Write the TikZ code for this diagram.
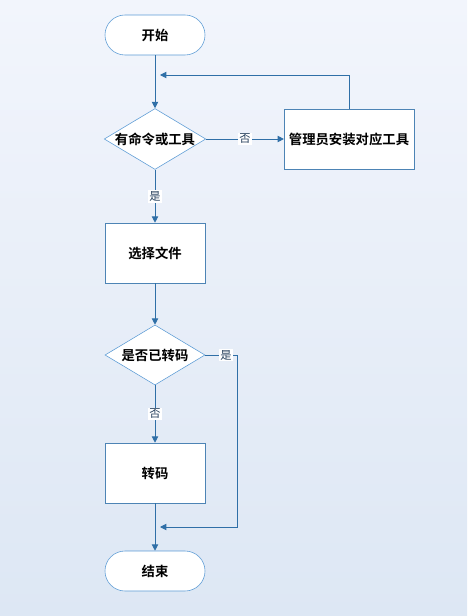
\documentclass[tikz,border=0pt]{standalone}
\usepackage{fontspec}
\setmainfont{Noto Sans CJK SC}
\newfontfamily\cjkbold{Noto Sans CJK SC Bold}
\usetikzlibrary{shapes.geometric,arrows.meta}
\definecolor{nodeline}{HTML}{5B9BD5}
\definecolor{flowline}{HTML}{2F6FA7}
\definecolor{answertext}{HTML}{26405C}
\definecolor{bgtop}{HTML}{F2F5FC}
\definecolor{bgbottom}{HTML}{DDE7F4}
\begin{document}
\begin{tikzpicture}[
    x=0.025cm, y=-0.025cm,
    terminal/.style={rectangle, rounded corners=0.5cm, draw=nodeline, fill=white, minimum width=2.5cm, minimum height=1cm, font=\cjkbold\fontsize{9.5}{11}\selectfont},
    decision/.style={diamond, aspect=1.667, draw=nodeline, fill=white, inner sep=0pt, minimum width=2.5cm, minimum height=1.5cm, font=\cjkbold\fontsize{9.5}{11}\selectfont},
    process/.style={rectangle, draw=nodeline!85!black, fill=white, minimum height=1.5cm, font=\cjkbold\fontsize{9.5}{11}\selectfont},
    answer/.style={fill=white, inner sep=1pt, text=answertext, font=\fontsize{8}{9}\selectfont},
    arrow/.style={-{Triangle[length=4.5pt,width=4.5pt]}, draw=flowline, line width=0.6pt}
]
    % Background
    \shade[top color=bgtop, bottom color=bgbottom] (0,0) rectangle (467,616);
    \useasboundingbox (0,0) rectangle (467,616);

    % Steps
    \node[terminal] (start) at (155,35) {开始};
    \node[decision] (hastool) at (155,139) {有命令或工具};
    \node[process, minimum width=3.2cm] (install) at (349,139) {管理员安装对应工具};
    \node[process, minimum width=2.5cm] (choose) at (155,253) {选择文件};
    \node[decision] (converted) at (155,355) {是否已转码};
    \node[process, minimum width=2.5cm] (convert) at (155,473) {转码};
    \node[terminal] (finish) at (155,571) {结束};

    % Joins
    \coordinate (loopin) at (160,75);
    \coordinate (bend) at (237,355);
    \coordinate (skipin) at (160,527);

    % Flow
    \draw[arrow] (start) -- (hastool);
    \draw[arrow] (hastool) -- node[answer] {否} (install);
    \draw[arrow] (install.north) |- (loopin);
    \draw[arrow] (hastool) -- node[answer] {是} (choose);
    \draw[arrow] (choose) -- (converted);
    \draw[arrow] (converted) -- node[answer] {否} (convert);
    \draw[arrow] (convert) -- (finish);
    \draw[arrow] (converted.east) -- node[answer, pos=0.65] {是} (bend) |- (skipin);
\end{tikzpicture}
\end{document}
